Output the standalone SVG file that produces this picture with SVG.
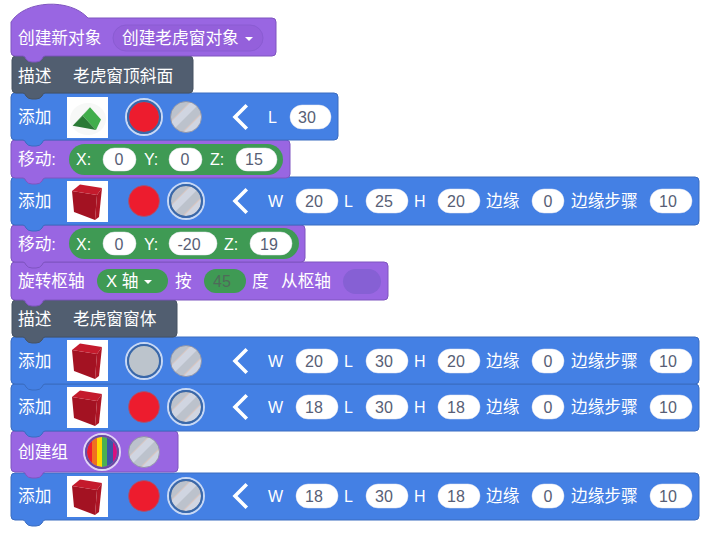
<svg xmlns="http://www.w3.org/2000/svg" width="707" height="533" viewBox="0 0 707 533">
<style>
text{font-family:"Liberation Sans","Noto Sans CJK SC",sans-serif;font-size:16px;fill:#fff}
.c{font-size:16.7px}
.v{fill:#575e75;text-anchor:middle}
.p{fill:#fff;stroke:#e4e4ee;stroke-width:.5}
.purple{fill:#9966e2;stroke:#7f55c0;stroke-width:1}
.blue{fill:#4480e4;stroke:#3a6cc0;stroke-width:1}
.slate{fill:#515e70;stroke:#465262;stroke-width:1}
.g{fill:#3f9a54}
.chev{fill:none;stroke:#fff;stroke-width:3.6;stroke-linecap:square;stroke-linejoin:miter}
.caret{fill:#fff}
</style>
<defs>
<pattern id="hatch" width="16" height="16" patternUnits="userSpaceOnUse" patternTransform="rotate(45)">
<rect width="16" height="16" fill="#bcc2cc"/><rect x="8" width="8" height="16" fill="#d0d5e1"/><rect x="8" width=".7" height="16" fill="#dcc0b4"/>
</pattern>
<clipPath id="rb"><circle cx="0" cy="0" r="15"/></clipPath>
<g id="cube">
<rect width="41" height="41" fill="#fff"/>
<polygon points="5,10 30,14 28,39 7,31" fill="#a31222"/>
<polygon points="5,10 13,3.500 35,7 30,14" fill="#c41a2c"/>
<polygon points="30,14 35,7 32,36 28,39" fill="#ad1525"/>
</g>
<g id="wedge">
<rect width="41" height="41" fill="#fff"/>
<ellipse cx="21" cy="22" rx="18" ry="16" fill="#f7f8f7"/>
<polygon points="5.700,28.700 23,10.300 15.700,18.700" fill="#2b8a38"/>
<polygon points="23,10.300 34,22.500 29,33 15.700,18.700" fill="#41ae4b"/>
<polygon points="5.700,28.700 15.700,18.700 29,33" fill="#2a7a35"/>
</g>
<circle id="hatched" r="15.500" fill="url(#hatch)" stroke="#8a8ea0" stroke-width=".8"/>
<circle id="red" r="15.500" fill="#ed1c2e" stroke="#9a5a78" stroke-width=".8"/>
<g id="sel"><circle r="18" fill="none" stroke="#c8d8f4" stroke-width="2"/><circle r="16" fill="none" stroke="#3a68a8" stroke-width="2"/></g>
<polyline id="chevron" class="chev" points="10.500,-10.500 0,0 10.500,10.500"/>
<polygon id="caretDown" class="caret" points="0,0 8,0 4,4"/>
</defs>

<g id="connectors"/>

<g id="block-12">
<path class="blue" d="M11 477Q11 473 15 473H695Q699 473 699 477V516Q699 520 695 520H45Q43 520 42 523Q40 526 36 526H32Q28 526 26 523Q25 520 23 520H15Q11 520 11 516Z"/>
<text class="c" x="18" y="502">添加</text>
<use href="#cube" x="67" y="476"/>
<use href="#red" x="144" y="496"/>
<use href="#hatched" x="186" y="496"/><use href="#sel" x="186" y="496"/>
<use href="#chevron" x="235" y="496"/>
<text x="268" y="502">W</text><rect class="p" x="296" y="484" width="42" height="24" rx="12"/><text class="v" x="314" y="502">18</text>
<text x="344" y="502">L</text><rect class="p" x="366" y="484" width="42" height="24" rx="12"/><text class="v" x="384" y="502">30</text>
<text x="414" y="502">H</text><rect class="p" x="438" y="484" width="42" height="24" rx="12"/><text class="v" x="456" y="502">18</text>
<text class="c" x="486" y="502">边缘</text><rect class="p" x="532" y="484" width="32" height="24" rx="12"/><text class="v" x="548" y="502">0</text>
<text class="c" x="571" y="502">边缘步骤</text><rect class="p" x="650" y="484" width="42" height="24" rx="12"/><text class="v" x="668" y="502">10</text>
</g>

<g id="block-11">
<path class="purple" d="M11 435Q11 431 15 431H174Q178 431 178 435V468Q178 472 174 472H45Q43 472 42 475Q40 478 36 478H32Q28 478 26 475Q25 472 23 472H15Q11 472 11 468Z"/>
<text class="c" x="18" y="458">创建组</text>
<g transform="translate(102,452)">
<g clip-path="url(#rb)"><rect x="-16" y="-16" width="6" height="32" fill="#ed1c2e"/><rect x="-10" y="-16" width="5" height="32" fill="#f07020"/><rect x="-5" y="-16" width="5" height="32" fill="#ffd900"/><rect x="0" y="-16" width="5" height="32" fill="#4cb050"/><rect x="5" y="-16" width="6" height="32" fill="#3f55a5"/><rect x="11" y="-16" width="5" height="32" fill="#d8107e"/></g>
<circle r="18" fill="none" stroke="#e0d4f6" stroke-width="2"/><circle r="16" fill="none" stroke="#6b4ba0" stroke-width="2"/>
</g>
<use href="#hatched" x="144" y="452"/>
</g>

<g id="block-10">
<path class="blue" d="M11 388Q11 384 15 384H695Q699 384 699 388V427Q699 431 695 431H45Q43 431 42 434Q40 437 36 437H32Q28 437 26 434Q25 431 23 431H15Q11 431 11 427Z"/>
<text class="c" x="18" y="413">添加</text>
<use href="#cube" x="67" y="387"/>
<use href="#red" x="144" y="407"/>
<use href="#hatched" x="186" y="407"/><use href="#sel" x="186" y="407"/>
<use href="#chevron" x="235" y="407"/>
<text x="268" y="413">W</text><rect class="p" x="296" y="395" width="42" height="24" rx="12"/><text class="v" x="314" y="413">18</text>
<text x="344" y="413">L</text><rect class="p" x="366" y="395" width="42" height="24" rx="12"/><text class="v" x="384" y="413">30</text>
<text x="414" y="413">H</text><rect class="p" x="438" y="395" width="42" height="24" rx="12"/><text class="v" x="456" y="413">18</text>
<text class="c" x="486" y="413">边缘</text><rect class="p" x="532" y="395" width="32" height="24" rx="12"/><text class="v" x="548" y="413">0</text>
<text class="c" x="571" y="413">边缘步骤</text><rect class="p" x="650" y="395" width="42" height="24" rx="12"/><text class="v" x="668" y="413">10</text>
</g>

<g id="block-9">
<path class="blue" d="M11 341Q11 337 15 337H695Q699 337 699 341V380Q699 384 695 384H45Q43 384 42 387Q40 390 36 390H32Q28 390 26 387Q25 384 23 384H15Q11 384 11 380Z"/>
<text class="c" x="18" y="367">添加</text>
<use href="#cube" x="67" y="340"/>
<circle cx="144" cy="361" r="15.500" fill="#bcc4cc"/><use href="#sel" x="144" y="361"/>
<use href="#hatched" x="186" y="361"/>
<use href="#chevron" x="235" y="361"/>
<text x="268" y="367">W</text><rect class="p" x="296" y="349" width="42" height="24" rx="12"/><text class="v" x="314" y="367">20</text>
<text x="344" y="367">L</text><rect class="p" x="366" y="349" width="42" height="24" rx="12"/><text class="v" x="384" y="367">30</text>
<text x="414" y="367">H</text><rect class="p" x="438" y="349" width="42" height="24" rx="12"/><text class="v" x="456" y="367">20</text>
<text class="c" x="486" y="367">边缘</text><rect class="p" x="532" y="349" width="32" height="24" rx="12"/><text class="v" x="548" y="367">0</text>
<text class="c" x="571" y="367">边缘步骤</text><rect class="p" x="650" y="349" width="42" height="24" rx="12"/><text class="v" x="668" y="367">10</text>
</g>

<g id="block-8">
<path class="slate" d="M12 304Q12 300 16 300H173Q177 300 177 304V333Q177 337 173 337H45Q43 337 42 340Q40 343 36 343H32Q28 343 26 340Q25 337 23 337H16Q12 337 12 333Z"/>
<text class="c" x="18" y="325">描述</text>
<text class="c" x="73" y="325">老虎窗窗体</text>
</g>

<g id="block-7">
<path class="purple" d="M11 266Q11 262 15 262H384Q388 262 388 266V296Q388 300 384 300H45Q43 300 42 303Q40 306 36 306H32Q28 306 26 303Q25 300 23 300H15Q11 300 11 296Z"/>
<text class="c" x="18" y="287">旋转枢轴</text>
<rect class="g" x="97" y="269" width="71" height="24" rx="12"/>
<text class="c" x="106" y="287">X 轴</text>
<use href="#caretDown" x="144" y="280"/>
<text class="c" x="175" y="287">按</text>
<rect class="g" x="204" y="269" width="42" height="24" rx="12"/>
<text class="v" x="222" y="287" style="fill:#4f6a5a">45</text>
<text class="c" x="252" y="287">度</text>
<text class="c" x="281" y="287">从枢轴</text>
<rect x="343" y="269" width="38" height="25" rx="12.500" fill="#8660d4"/>
</g>

<g id="block-6">
<path class="purple" d="M11 229Q11 225 15 225H301Q305 225 305 229V258Q305 262 301 262H45Q43 262 42 265Q40 268 36 268H32Q28 268 26 265Q25 262 23 262H15Q11 262 11 258Z"/>
<text class="c" x="18" y="250">移动:</text>
<rect class="g" x="69" y="228" width="230" height="31" rx="15.500"/>
<text x="76" y="250">X:</text><rect class="p" x="103" y="232" width="33" height="23" rx="11.500"/><text class="v" x="119" y="250">0</text>
<text x="144" y="250">Y:</text><rect class="p" x="169" y="232" width="48" height="23" rx="11.500"/><text class="v" x="189" y="250">-20</text>
<text x="224" y="250">Z:</text><rect class="p" x="250" y="232" width="42" height="23" rx="11.500"/><text class="v" x="269" y="250">19</text>
</g>

<g id="block-5">
<path class="blue" d="M11 181Q11 177 15 177H695Q699 177 699 181V221Q699 225 695 225H45Q43 225 42 228Q40 231 36 231H32Q28 231 26 228Q25 225 23 225H15Q11 225 11 221Z"/>
<text class="c" x="18" y="207">添加</text>
<use href="#cube" x="67" y="181"/>
<use href="#red" x="144" y="201"/>
<use href="#hatched" x="186" y="201"/><use href="#sel" x="186" y="201"/>
<use href="#chevron" x="235" y="201"/>
<text x="268" y="207">W</text><rect class="p" x="296" y="189" width="42" height="24" rx="12"/><text class="v" x="314" y="207">20</text>
<text x="344" y="207">L</text><rect class="p" x="366" y="189" width="42" height="24" rx="12"/><text class="v" x="384" y="207">25</text>
<text x="414" y="207">H</text><rect class="p" x="438" y="189" width="42" height="24" rx="12"/><text class="v" x="456" y="207">20</text>
<text class="c" x="486" y="207">边缘</text><rect class="p" x="532" y="189" width="32" height="24" rx="12"/><text class="v" x="548" y="207">0</text>
<text class="c" x="571" y="207">边缘步骤</text><rect class="p" x="650" y="189" width="42" height="24" rx="12"/><text class="v" x="668" y="207">10</text>
</g>

<g id="block-4">
<path class="purple" d="M11 144Q11 140 15 140H286Q290 140 290 144V174Q290 178 286 178H45Q43 178 42 181Q40 184 36 184H32Q28 184 26 181Q25 178 23 178H15Q11 178 11 174Z"/>
<text class="c" x="18" y="165">移动:</text>
<rect class="g" x="69" y="144" width="214" height="31" rx="15.500"/>
<text x="76" y="165">X:</text><rect class="p" x="103" y="148" width="33" height="23" rx="11.500"/><text class="v" x="119" y="165">0</text>
<text x="144" y="165">Y:</text><rect class="p" x="169" y="148" width="33" height="23" rx="11.500"/><text class="v" x="185" y="165">0</text>
<text x="210" y="165">Z:</text><rect class="p" x="236" y="148" width="41" height="23" rx="11.500"/><text class="v" x="254" y="165">15</text>
</g>

<g id="block-3">
<path class="blue" d="M11 97Q11 93 15 93H334Q338 93 338 97V136Q338 140 334 140H45Q43 140 42 143Q40 146 36 146H32Q28 146 26 143Q25 140 23 140H15Q11 140 11 136Z"/>
<text class="c" x="18" y="123">添加</text>
<use href="#wedge" x="67" y="97"/>
<use href="#red" x="144" y="117"/><use href="#sel" x="144" y="117"/>
<use href="#hatched" x="186" y="117"/>
<use href="#chevron" x="235" y="117"/>
<text x="268" y="123">L</text><rect class="p" x="290" y="105" width="41" height="24" rx="12"/><text class="v" x="307" y="123">30</text>
</g>

<g id="block-2">
<path class="slate" d="M12 60Q12 56 16 56H189Q193 56 193 60V89Q193 93 189 93H45Q43 93 42 96Q40 99 36 99H32Q28 99 26 96Q25 93 23 93H16Q12 93 12 89Z"/>
<text class="c" x="18" y="82">描述</text>
<text class="c" x="73" y="82">老虎窗顶斜面</text>
</g>

<g id="block-1">
<path class="purple" d="M11 22C25 0 70 -2 88 18H272Q276 18 276 22V52Q276 56 272 56H45Q43 56 42 59Q40 62 36 62H32Q28 62 26 59Q25 56 23 56H15Q11 56 11 52Z"/>
<text class="c" x="18" y="44">创建新对象</text>
<rect x="113" y="25" width="150" height="26" rx="13" fill="#9460db" stroke="#8a5cd2" stroke-width="1"/>
<text class="c" x="122" y="44">创建老虎窗对象</text>
<use href="#caretDown" x="245" y="37"/>
</g>
</svg>
